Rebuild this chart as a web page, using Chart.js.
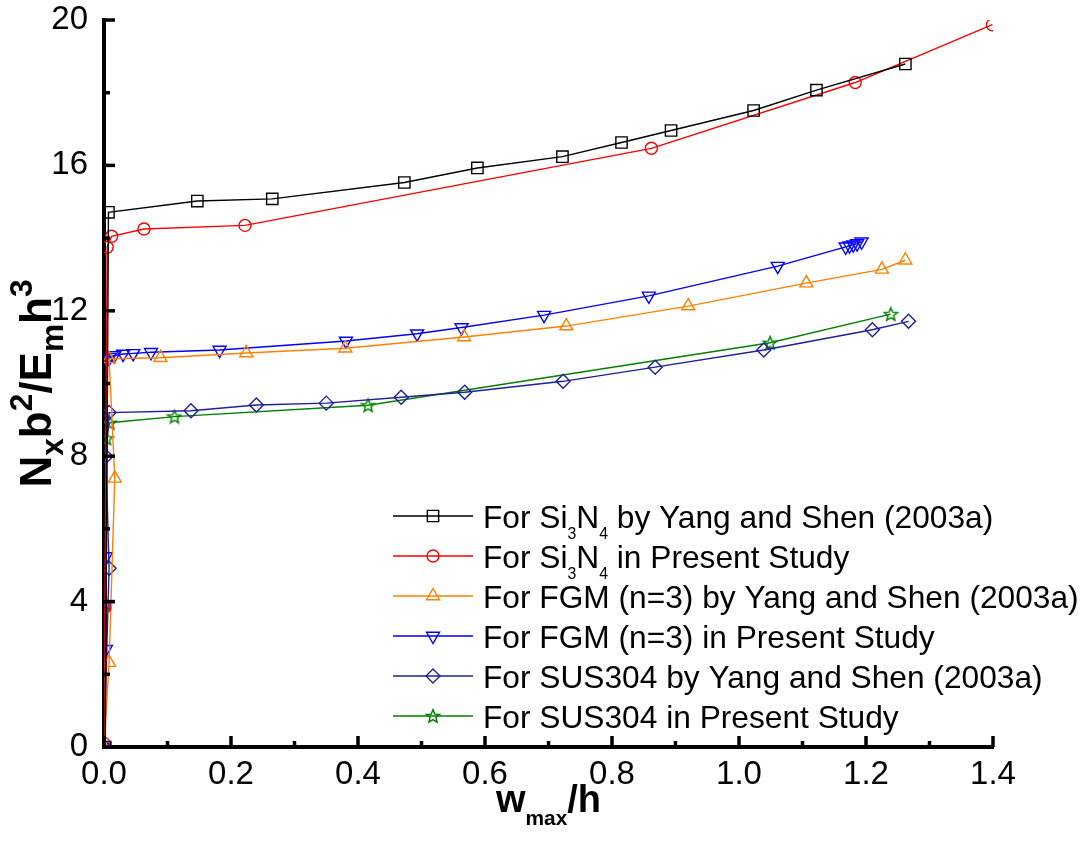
<!DOCTYPE html>
<html>
<head>
<meta charset="utf-8">
<script src="https://cdn.jsdelivr.net/npm/chart.js@4/dist/chart.umd.min.js"></script>
<style>
  html, body { margin: 0; padding: 0; background: #ffffff; }
  #c { display: block; }
</style>
</head>
<body>
<canvas id="c" width="1081" height="841"></canvas>
<script>
// ---------- data ----------
const si3n4YangX = [0.002, 0.007, 0.147, 0.265, 0.473, 0.588, 0.722, 0.815, 0.893, 1.023, 1.122, 1.262];
const si3n4YangY = [0.0, 14.71, 15.02, 15.08, 15.53, 15.93, 16.24, 16.63, 16.96, 17.51, 18.07, 18.79];

const si3n4PresentX = [0.0, 0.0015, 0.005, 0.012, 0.063, 0.222, 0.862, 1.183, 1.399];
const si3n4PresentY = [0.1, 3.85, 13.75, 14.05, 14.25, 14.35, 16.47, 18.28, 19.87];

const fgmYangX = [0.0, 0.008, 0.017, 0.008, 0.089, 0.224, 0.380, 0.567, 0.728, 0.920, 1.106, 1.225, 1.262];
const fgmYangY = [0.0, 2.32, 7.39, 10.68, 10.71, 10.84, 10.97, 11.28, 11.58, 12.13, 12.76, 13.14, 13.39];

const fgmPresentX = [0.0, 0.003, 0.003, 0.005, 0.009, 0.016, 0.030, 0.046, 0.074, 0.182, 0.381, 0.493, 0.563, 0.693, 0.858, 1.061, 1.168, 1.174, 1.180, 1.186, 1.193];
const fgmPresentY = [0.0, 2.69, 5.24, 10.65, 10.72, 10.77, 10.81, 10.83, 10.86, 10.92, 11.17, 11.37, 11.54, 11.88, 12.41, 13.23, 13.76, 13.79, 13.82, 13.85, 13.90];

const susYangX = [0.0, 0.008, 0.003, 0.008, 0.137, 0.240, 0.350, 0.468, 0.568, 0.723, 0.868, 1.039, 1.210, 1.267];
const susYangY = [0.0, 4.92, 7.99, 9.20, 9.25, 9.41, 9.46, 9.62, 9.76, 10.06, 10.45, 10.92, 11.48, 11.71];

const susPresentX = [0.0, 0.003, 0.004, 0.009, 0.111, 0.416, 1.049, 1.239];
const susPresentY = [0.0, 3.93, 8.49, 8.92, 9.09, 9.40, 11.12, 11.91];

const xMajorTicks = [0.0, 0.2, 0.4, 0.6, 0.8, 1.0, 1.2, 1.4];
const xMinorTicks = [0.1, 0.3, 0.5, 0.7, 0.9, 1.1, 1.3];
const yMajorTicks = [0, 4, 8, 12, 16, 20];
const yMinorTicks = [2, 6, 10, 14, 18];

// legend texts: arrays of [text, kind] where kind: n = normal, sub = subscript
const legendTexts = [
  [["For Si", "n"], ["3", "sub"], ["N", "n"], ["4", "sub"], [" by Yang and Shen (2003a)", "n"]],
  [["For Si", "n"], ["3", "sub"], ["N", "n"], ["4", "sub"], [" in Present Study", "n"]],
  [["For FGM (n=3) by Yang and Shen (2003a)", "n"]],
  [["For FGM (n=3) in Present Study", "n"]],
  [["For SUS304 by Yang and Shen (2003a)", "n"]],
  [["For SUS304 in Present Study", "n"]]
];
const yTitle = [["N", "n"], ["x", "sub"], ["b", "n"], ["2", "sup"], ["/E", "n"], ["m", "sub"], ["h", "n"], ["3", "sup"]];
const xTitle = [["w", "n"], ["max", "sub"], ["/h", "n"]];

// ---------- helpers ----------
const FONT = '"Liberation Sans", Arial, Helvetica, sans-serif';
function pts(xs, ys) { return xs.map((x, i) => ({ x: x, y: ys[i] })); }

function makeStar(color, size) {
  const cv = document.createElement('canvas');
  cv.width = size; cv.height = size;
  const g = cv.getContext('2d');
  const cx = size / 2, cy = size / 2 + 0.6, R = size / 2 - 1.2, r = R * 0.45;
  g.beginPath();
  for (let i = 0; i < 10; i++) {
    const ang = -Math.PI / 2 + i * Math.PI / 5;
    const rr = (i % 2 === 0) ? R : r;
    const px = cx + rr * Math.cos(ang), py = cy + rr * Math.sin(ang);
    if (i === 0) g.moveTo(px, py); else g.lineTo(px, py);
  }
  g.closePath();
  g.strokeStyle = color; g.lineWidth = 1.5;
  g.stroke();
  return cv;
}
const starImg = makeStar('#008000', 16);

function richWidth(ctx, segs, size, bold, subScale) {
  let w = 0;
  segs.forEach(([t, k]) => {
    const s = k === 'n' ? size : size * subScale;
    ctx.font = (bold ? 'bold ' : '') + s + 'px ' + FONT;
    w += ctx.measureText(t).width;
  });
  return w;
}
function drawRich(ctx, segs, x, baseline, size, bold, subScale, subDy, supDy) {
  let cx = x;
  segs.forEach(([t, k]) => {
    const s = k === 'n' ? size : size * subScale;
    ctx.font = (bold ? 'bold ' : '') + s + 'px ' + FONT;
    let dy = 0;
    if (k === 'sub') dy = subDy;
    if (k === 'sup') dy = -supDy;
    ctx.fillText(t, cx, baseline + dy);
    cx += ctx.measureText(t).width;
  });
}

const series = [
  { label: 'For Si3N4 by Yang and Shen (2003a)', xs: si3n4YangX, ys: si3n4YangY, color: '#000000', style: 'rect', r: 8, rot: 0 },
  { label: 'For Si3N4 in Present Study', xs: si3n4PresentX, ys: si3n4PresentY, color: '#ff0000', style: 'circle', r: 6, rot: 0 },
  { label: 'For FGM (n=3) by Yang and Shen (2003a)', xs: fgmYangX, ys: fgmYangY, color: '#ff8000', style: 'triangle', r: 7.5, rot: 0 },
  { label: 'For FGM (n=3) in Present Study', xs: fgmPresentX, ys: fgmPresentY, color: '#0000ff', style: 'triangle', r: 7.5, rot: 180 },
  { label: 'For SUS304 by Yang and Shen (2003a)', xs: susYangX, ys: susYangY, color: '#1f1f99', style: 'rectRot', r: 7, rot: 0 },
  { label: 'For SUS304 in Present Study', xs: susPresentX, ys: susPresentY, color: '#008000', style: starImg, r: 8, rot: 0 }
];

const datasets = series.map(s => ({
  label: s.label,
  data: pts(s.xs, s.ys),
  showLine: true,
  borderColor: s.color,
  backgroundColor: 'rgba(0,0,0,0)',
  borderWidth: 1.4,
  pointStyle: s.style,
  pointRadius: s.r,
  pointRotation: s.rot,
  pointBorderColor: s.color,
  pointBackgroundColor: 'rgba(0,0,0,0)',
  pointBorderWidth: 1.4,
  tension: 0
}));

// ---------- plugins ----------
const decor = {
  id: 'decor',
  afterDraw(chart) {
    const ctx = chart.ctx;
    const xs = chart.scales.x, ys = chart.scales.y;
    const a = chart.chartArea;
    ctx.save();
    // inward ticks
    ctx.strokeStyle = '#000'; ctx.lineWidth = 3.5; ctx.lineCap = 'butt';
    const tick = (x1, y1, x2, y2) => { ctx.beginPath(); ctx.moveTo(x1, y1); ctx.lineTo(x2, y2); ctx.stroke(); };
    yMajorTicks.forEach(v => { const p = ys.getPixelForValue(v); tick(a.left, p, a.left + 11, p); });
    yMinorTicks.forEach(v => { const p = ys.getPixelForValue(v); tick(a.left, p, a.left + 6, p); });
    xMajorTicks.forEach(v => { const p = xs.getPixelForValue(v); tick(p, a.bottom, p, a.bottom - 11); });
    xMinorTicks.forEach(v => { const p = xs.getPixelForValue(v); tick(p, a.bottom, p, a.bottom - 6); });

    // axis titles
    ctx.fillStyle = '#000';
    ctx.textAlign = 'left';
    ctx.textBaseline = 'alphabetic';
    // x title
    const xSize = 38;
    const xw = richWidth(ctx, xTitle, xSize, true, 0.55);
    const xc = (a.left + a.right) / 2;
    drawRich(ctx, xTitle, xc - xw / 2, 812, xSize, true, 0.55, 13, 0);
    // y title (rotated)
    const ySize = 44;
    const yw = richWidth(ctx, yTitle, ySize, true, 0.72);
    ctx.save();
    ctx.translate(51, (a.top + a.bottom) / 2);
    ctx.rotate(-Math.PI / 2);
    drawRich(ctx, yTitle, -yw / 2, 0, ySize, true, 0.72, 12, 19);
    ctx.restore();

    // legend
    const rowY0 = 516, rowStep = 40;
    chart.data.datasets.forEach((ds, i) => {
      const y = rowY0 + i * rowStep;
      ctx.strokeStyle = ds.borderColor; ctx.lineWidth = 1.4;
      ctx.beginPath(); ctx.moveTo(393, y); ctx.lineTo(473, y); ctx.stroke();
      const opts = {
        pointStyle: ds.pointStyle, radius: ds.pointRadius, rotation: ds.pointRotation,
        borderWidth: 1.4
      };
      ctx.strokeStyle = ds.borderColor;
      ctx.fillStyle = 'rgba(0,0,0,0)';
      if (Chart.helpers && Chart.helpers.drawPoint) {
        Chart.helpers.drawPoint(ctx, opts, 433, y);
      }
      ctx.fillStyle = '#000';
      drawRich(ctx, legendTexts[i], 483, y + 11.5, 31.7, false, 0.5, 11, 0);
    });
    ctx.restore();
  }
};

// ---------- chart ----------
new Chart(document.getElementById('c'), {
  type: 'scatter',
  data: { datasets: datasets },
  plugins: [decor],
  options: {
    responsive: false,
    animation: false,
    layout: { padding: { top: 20, right: 88, left: 0, bottom: 0 } },
    plugins: { legend: { display: false }, tooltip: { enabled: false } },
    scales: {
      x: {
        type: 'linear', min: 0, max: 1.4,
        afterFit(scale) { scale.height = 94; },
        afterBuildTicks(scale) { scale.ticks = xMajorTicks.map(v => ({ value: v })); },
        grid: { display: false, drawTicks: false },
        border: { display: true, color: '#000', width: 4 },
        ticks: { color: '#000', font: { family: FONT, size: 33 }, padding: 8,
                 callback: v => Number(v).toFixed(1), maxRotation: 0, autoSkip: false }
      },
      y: {
        type: 'linear', min: 0, max: 20,
        afterFit(scale) { scale.width = 104; },
        afterBuildTicks(scale) { scale.ticks = yMajorTicks.map(v => ({ value: v })); },
        grid: { display: false, drawTicks: false },
        border: { display: true, color: '#000', width: 4 },
        ticks: { color: '#000', font: { family: FONT, size: 33, lineHeight: 0.1 }, padding: 16, autoSkip: false }
      }
    }
  }
});
</script>
</body>
</html>
